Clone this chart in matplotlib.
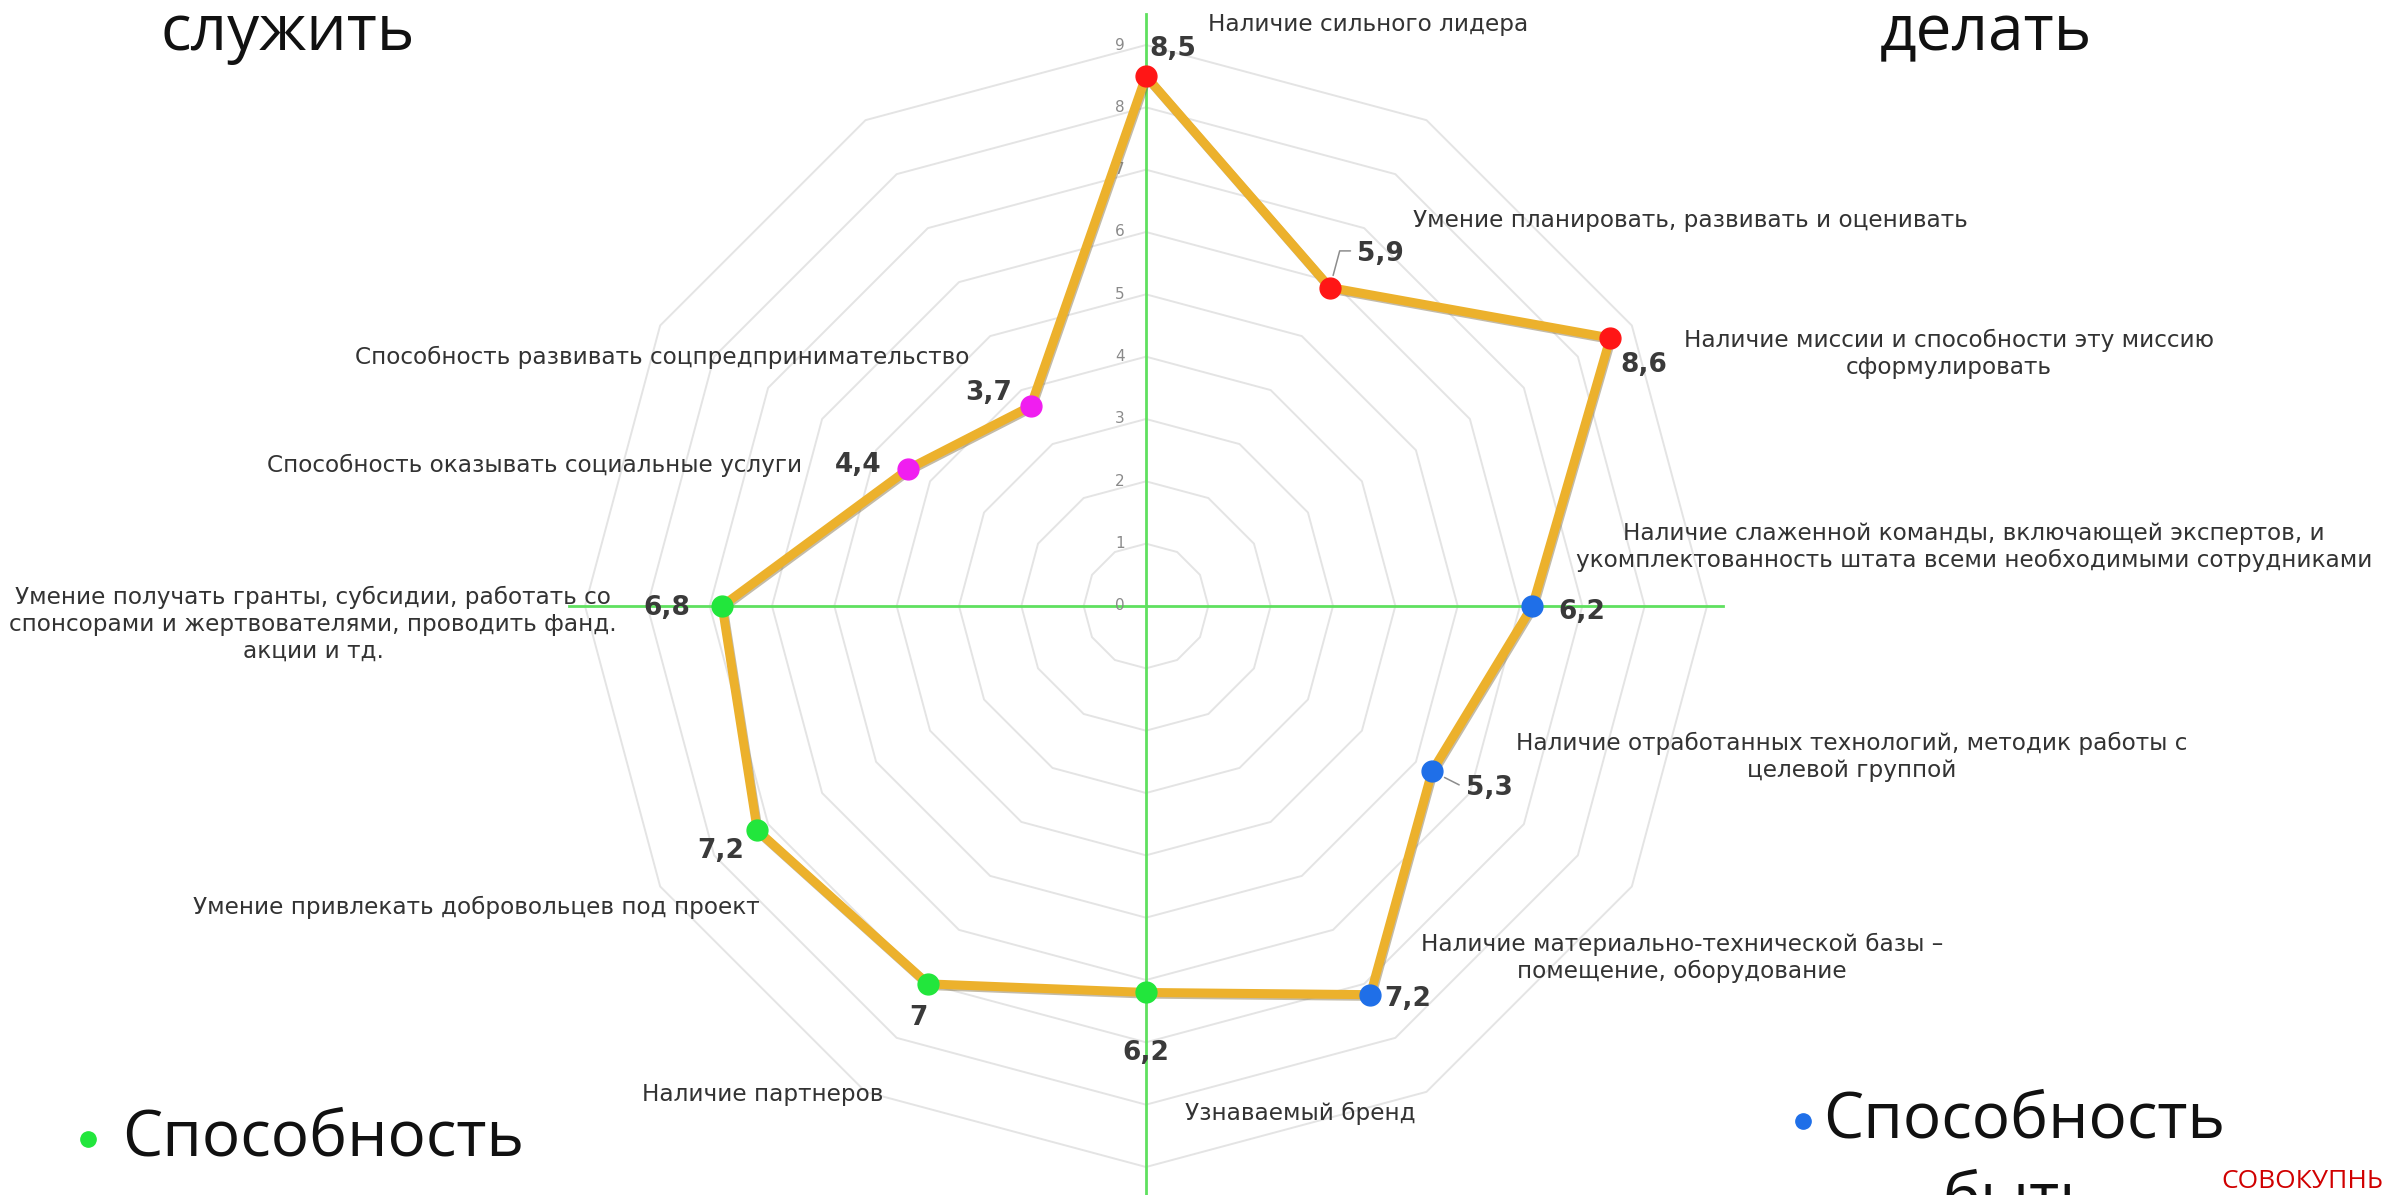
import numpy as np
import matplotlib
matplotlib.use("Agg")
import matplotlib.pyplot as plt
import matplotlib.patheffects as pe
from matplotlib.lines import Line2D

W, H = 2382, 1195

# --- data ---
categories = [
    "Наличие сильного лидера",
    "Умение планировать, развивать и оценивать",
    "Наличие миссии и способности эту миссию\nсформулировать",
    "Наличие слаженной команды, включающей экспертов, и\nукомплектованность штата всеми необходимыми сотрудниками",
    "Наличие отработанных технологий, методик работы с\nцелевой группой",
    "Наличие материально-технической базы –\nпомещение, оборудование",
    "Узнаваемый бренд",
    "Наличие партнеров",
    "Умение привлекать добровольцев под проект",
    "Умение получать гранты, субсидии, работать со\nспонсорами и жертвователями, проводить фанд.\nакции и тд.",
    "Способность оказывать социальные услуги",
    "Способность развивать соцпредпринимательство",
]
values = [8.5, 5.9, 8.6, 6.2, 5.3, 7.2, 6.2, 7.0, 7.2, 6.8, 4.4, 3.7]
value_labels = ["8,5", "5,9", "8,6", "6,2", "5,3", "7,2", "6,2", "7", "7,2", "6,8", "4,4", "3,7"]
point_colors = ["#ff1616", "#ff1616", "#ff1616",
                "#1f6fe8", "#1f6fe8", "#1f6fe8",
                "#22e63c", "#22e63c", "#22e63c", "#22e63c",
                "#f01ef0", "#f01ef0"]
ticks = list(range(10))

# --- layout (pixel positions of texts in the picture) ---
cat_pos = [  # x, y, ha
    (1208, 24, "left"), (1413, 220, "left"), (1949, 354, "center"),
    (1974, 547, "center"), (1852, 757, "center"), (1682, 958, "center"),
    (1185, 1113, "left"), (763, 1094, "center"), (760, 907, "right"),
    (313, 624, "center"), (802, 465, "right"), (969, 357, "right"),
]
val_off = [(27, -27), (51, -34), (34, 27), (49, 6), (57, 17), (37, 4),
           (0, 61), (-9, 34), (-37, 21), (-55, 2), (-50, -4), (-42, -13)]

fig = plt.figure(figsize=(W / 100, H / 100), dpi=100)
fig.patch.set_facecolor("white")

cx, cy, R = 1146, 606, 561
ax = fig.add_axes([(cx - R) / W, (H - cy - R) / H, 2 * R / W, 2 * R / H], projection="polar")
ax.set_theta_zero_location("N")
ax.set_theta_direction(-1)
ax.set_ylim(0, 9)
ax.axis("off")

n = len(values)
theta = np.arange(n) * 2 * np.pi / n
theta_closed = np.append(theta, theta[0])

# polygon grid
for r in range(1, 10):
    ax.plot(theta_closed, [r] * (n + 1), color="#e4e4e4", lw=1.4, zorder=1, clip_on=False)

# green cross
green = "#5fe05f"
ax.plot([0, 0], [0, 9.5], color=green, lw=2, zorder=2, clip_on=False)
ax.plot([np.pi, np.pi], [0, 9.6], color=green, lw=2, zorder=2, clip_on=False)
ax.plot([np.pi / 2, np.pi / 2], [0, 9.25], color=green, lw=2, zorder=2, clip_on=False)
ax.plot([3 * np.pi / 2, 3 * np.pi / 2], [0, 9.25], color=green, lw=2, zorder=2, clip_on=False)

# radial tick labels
for t in ticks:
    ax.annotate(str(t), xy=(0, t), xytext=(-26, 0), textcoords="offset pixels",
                ha="center", va="center", fontsize=11, color="#8a8a8a", zorder=3)

# data line
vals_closed = values + values[:1]
ax.plot(theta_closed, vals_closed, color="#ecb12c", lw=6.5, zorder=4, clip_on=False,
        solid_joinstyle="miter",
        path_effects=[pe.SimpleLineShadow(offset=(0.8, -1.2), shadow_color="#7a6a40", alpha=0.45),
                      pe.Normal()])
for th, v, c in zip(theta, values, point_colors):
    ax.plot(th, v, "o", color=c, markersize=15, zorder=5, clip_on=False)

# value labels, a few with small leader lines
leaders = {
    1: dict(arrowstyle="-", color="#8c8c8c", lw=1.1, relpos=(0, 0.6), shrinkA=3, shrinkB=9,
            connectionstyle="angle,angleA=180,angleB=75,rad=0"),
    4: dict(arrowstyle="-", color="#8c8c8c", lw=1.1, relpos=(0, 0.5), shrinkA=3, shrinkB=10),
}
for i, (th, v, lab, (dx, dy)) in enumerate(zip(theta, values, value_labels, val_off)):
    ax.annotate(lab, xy=(th, v), xytext=(dx, -dy), textcoords="offset pixels",
                ha="center", va="center", fontsize=19, fontweight="bold", color="#3a3a3a",
                zorder=6, arrowprops=leaders.get(i))

# category labels
for txt, (x, y, ha) in zip(categories, cat_pos):
    fig.text(x / W, 1 - y / H, txt, ha=ha, va="center", fontsize=16.7, color="#333333",
             linespacing=1.2, multialignment="center")

# big captions
big = dict(family="Open Sans", fontsize=46, color="#111111")
fig.text(288 / W, 1 - 50 / H, "служить", ha="center", va="baseline", **big)
fig.text(1986 / W, 1 - 50 / H, "делать", ha="center", va="baseline", **big)
fig.text(122 / W, 1 - 1139 / H, "Способность", ha="left", va="center", **big)
fig.text(1823 / W, 1 - 1121 / H, "Способность", ha="left", va="center", **big)
fig.text(2020 / W, 1 - 1168 / H, "быть", ha="center", va="top", **big)
fig.text(2221 / W, 1 - 1182 / H, "СОВОКУПНЫЙ", ha="left", va="center",
         family="Open Sans", fontsize=19, color="#d00000")
fig.add_artist(Line2D([88 / W], [1 - 1139 / H], marker="o", markersize=11, color="#22e63c",
                      transform=fig.transFigure))
fig.add_artist(Line2D([1803 / W], [1 - 1121 / H], marker="o", markersize=11, color="#1f6fe8",
                      transform=fig.transFigure))

fig.savefig("out.png", dpi=100, facecolor="white")
